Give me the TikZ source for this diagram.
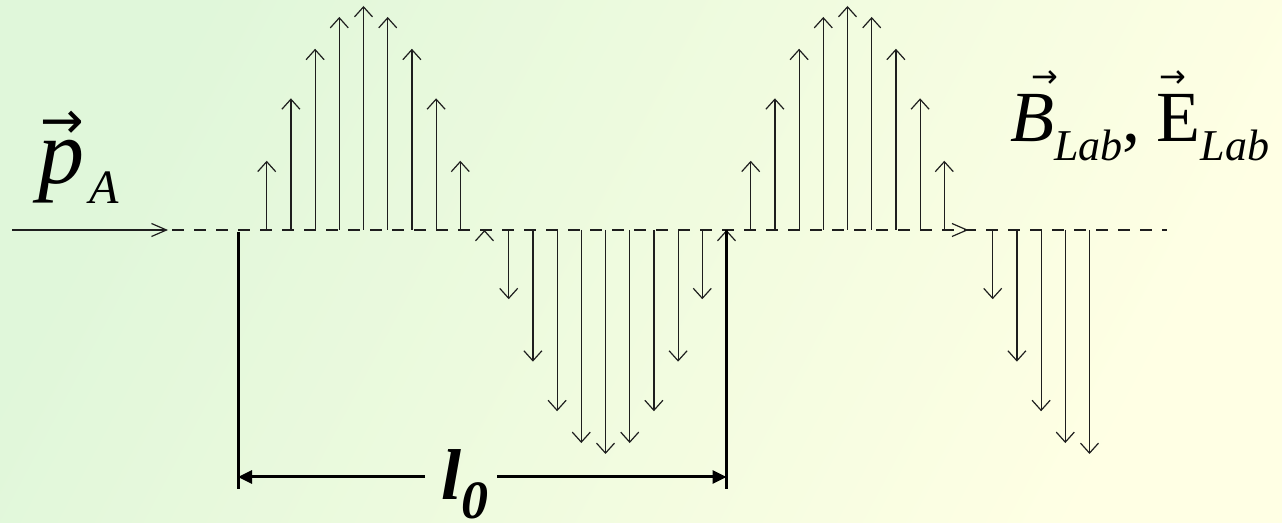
\documentclass[tikz,border=0pt]{standalone}
\usepackage{fontspec}
\setmainfont{Liberation Serif}
\newfontfamily\arrowfont{DejaVu Sans}
\usetikzlibrary{arrows.meta}
\definecolor{bgGreen}{HTML}{E0F7DA}
\definecolor{bgMid}{HTML}{F6FCDF}
\definecolor{bgYellow}{HTML}{FFFFE4}
\definecolor{inkDark}{HTML}{1E1E1E}
% arrow accent: shift, raise, size, letter
\newcommand{\vecover}[4]{\rlap{\hspace{#1}\raisebox{#2}{\arrowfont\fontsize{#3}{#3}\selectfont →}}{#4}}

\begin{document}
\begin{tikzpicture}[x=0.5pt, y=-0.5pt,
          field/.style={draw=inkDark, line width=0.6pt, -{Straight Barb[length=5pt, width=9pt]}},
          beam/.style={draw=inkDark, line width=0.6pt, -{Straight Barb[length=7.5pt, width=6.5pt]}},
          axisline/.style={draw=inkDark, line width=0.55pt, dash pattern=on 6pt off 5pt},
          bar/.style={draw=black, line width=1.5pt},
          dim/.style={draw=black, line width=1.5pt, -{Triangle[length=7pt, width=6.5pt]}},
          lbl/.style={inner sep=0pt, anchor=base west}]
        \shade[left color=bgGreen, middle color=bgMid, right color=bgYellow, shading angle=62] (0,0) rectangle (1282,523);
        \coordinate (beamStart) at (12,230);
        \coordinate (beamEnd) at (168,230);
        \coordinate (axisL) at (172,230);
        \coordinate (axisR) at (1167,230);
        \draw[axisline] (axisL) -- (axisR);
        \draw[beam] (beamStart) -- (beamEnd);
        % field samples along the beam
        \foreach \h/\n in {0/9,10/9,20/9,30/5}
          \foreach \j in {1,...,\n}
            \draw[field] ({242.5+24.2*(\h+\j)},230) -- ++(0,{-224*sin(18*(\h+\j))});
        \draw[field] (484.5,231) -- (484.5,230);
        \draw[field] (726.5,231) -- (726.5,230);
        \draw[beam] (967,230) -- (968.5,230);
        % length marker
        \draw[bar] (238,232) -- (238,489);
        \draw[bar] (726.5,230) -- (726.5,489);
        \node[lbl, font=\fontsize{36}{36}\selectfont\bfseries\itshape] (lzero) at (441,500) {l\raisebox{-9.5pt}{\fontsize{27}{27}\selectfont 0}};
        \coordinate (dimL) at (238,477);
        \coordinate (dimR) at (726.5,477);
        \coordinate (gapL) at (425,477);
        \coordinate (gapR) at (497,477);
        \draw[dim] (gapL) -- (dimL);
        \draw[dim] (gapR) -- (dimR);
        \node[lbl, font=\fontsize{46}{46}\selectfont] (pA) at (38,184) {\vecover{0.8pt}{22.7pt}{26pt}{\itshape p}\hspace{2.5pt}\raisebox{-10pt}{\fontsize{24}{24}\selectfont\itshape A}};
        \node[lbl, font=\fontsize{36}{36}\selectfont] (BE) at (1010,142) {\vecover{10.4pt}{27.2pt}{16pt}{\itshape B}\raisebox{-9.5pt}{\fontsize{22}{22}\selectfont\itshape Lab},\hspace{8pt}\vecover{1.5pt}{27.2pt}{16pt}{E}\raisebox{-9.5pt}{\fontsize{22}{22}\selectfont\itshape Lab}};
      \end{tikzpicture}
\end{document}
